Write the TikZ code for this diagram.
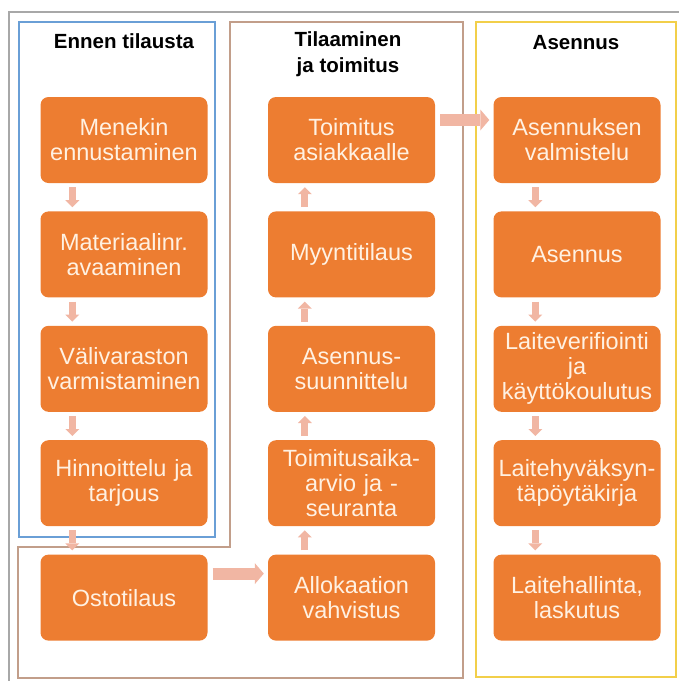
\documentclass[tikz,border=0pt]{standalone}
\usepackage{fontspec}
\setmainfont{Liberation Sans}
\usetikzlibrary{positioning, arrows.meta}
\definecolor{boxorange}{HTML}{ED7D31}
\definecolor{boxtext}{HTML}{FFF1E2}
\definecolor{arrowpink}{HTML}{F1B6A3}
\definecolor{frameblue}{HTML}{6A9FD6}
\definecolor{framebrown}{HTML}{C29E8A}
\definecolor{frameyellow}{HTML}{F2CF4A}
\definecolor{framegray}{HTML}{A8A8A8}
\tikzset{
x=1pt, y=1pt, % one unit is one pixel of the page (y counted negative from the top)
node distance=28pt, % gap between two boxes of a column
box/.style={rectangle, rounded corners=8pt, fill=boxorange, text=boxtext,
  minimum width=167pt, minimum height=86pt, text width=160pt, inner sep=0pt,
  align=center, font=\fontsize{23.5}{25}\selectfont}, % the orange steps
head/.style={align=center, font=\bfseries\fontsize{20.5}{26}\selectfont}, % column titles
flow/.style={color=arrowpink, line width=7pt,
  -{Triangle[width=14pt,length=7pt,line width=0pt]},
  shorten <=4pt, shorten >=4pt}, % short arrows between the steps
bigflow/.style={color=arrowpink, line width=12pt,
  -{Triangle[width=21pt,length=9pt,line width=0pt]},
  shorten <=5pt, shorten >=4pt}, % arrows from one column to another
}
\begin{document}
\begin{tikzpicture}
      \useasboundingbox (0,0) rectangle (679,-681);

      % frames
      \draw[framegray, line width=2pt] (9,-681) -- (9,-12) -- (679,-12);
      \draw[frameblue, line width=1.6pt] (19,-22) rectangle (215,-537);
      \draw[framebrown, line width=1.6pt] (230,-22) -- (463,-22) -- (463,-678) -- (18,-678)
        -- (18,-547) -- (230,-547) -- cycle;
      \draw[frameyellow, line width=1.6pt] (476,-22) rectangle (676,-677);

      \node[head] (h1) at (124,-41) {Ennen tilausta};
      \node[head] (h2) at (348,-54) {Tilaaminen\\ja toimitus};
      \node[head] (h3) at (576,-43) {Asennus};

      % Ennen tilausta
      \node[box] (men) at (124,-140) {Menekin\\ennustaminen};
      \node[box, below=of men] (mat) {Materiaalinr.\\avaaminen};
      \node[box, below=of mat] (val) {Välivaraston\\varmistaminen};
      \node[box, below=of val] (hin) {Hinnoittelu ja\\tarjous};
      \node[box, below=of hin] (ost) {Ostotilaus};

      % Tilaaminen ja toimitus
      \node[box] (toi) at (351.5,-140) {Toimitus\\asiakkaalle};
      \node[box, below=of toi] (myy) {Myyntitilaus};
      \node[box, below=of myy] (asu) {Asennus-\\suunnittelu};
      \node[box, below=of asu] (tsa) {Toimitusaika-\\arvio ja -\\seuranta};
      \node[box, below=of tsa] (all) {Allokaation\\vahvistus};

      % Asennus
      \node[box] (asv) at (577,-140) {Asennuksen\\valmistelu};
      \node[box, below=of asv] (ase) {Asennus};
      \node[box, below=of ase] (lve) {Laiteverifiointi\\ja\\käyttökoulutus};
      \node[box, below=of lve] (lhy) {Laitehyväksyn-\\täpöytäkirja};
      \node[box, below=of lhy] (lha) {Laitehallinta,\\laskutus};

      \draw
      ([xshift=32pt]men.south west) edge[flow] ([xshift=32pt]mat.north west)
      ([xshift=32pt]mat.south west) edge[flow] ([xshift=32pt]val.north west)
      ([xshift=32pt]val.south west) edge[flow] ([xshift=32pt]hin.north west)
      ([xshift=32pt]hin.south west) edge[flow] ([xshift=32pt]ost.north west)

      ([xshift=37pt]all.north west) edge[flow] ([xshift=37pt]tsa.south west)
      ([xshift=37pt]tsa.north west) edge[flow] ([xshift=37pt]asu.south west)
      ([xshift=37pt]asu.north west) edge[flow] ([xshift=37pt]myy.south west)
      ([xshift=37pt]myy.north west) edge[flow] ([xshift=37pt]toi.south west)

      ([xshift=42pt]asv.south west) edge[flow] ([xshift=42pt]ase.north west)
      ([xshift=42pt]ase.south west) edge[flow] ([xshift=42pt]lve.north west)
      ([xshift=42pt]lve.south west) edge[flow] ([xshift=42pt]lhy.north west)
      ([xshift=42pt]lhy.south west) edge[flow] ([xshift=42pt]lha.north west)

      ([yshift=24pt]ost.east) edge[bigflow] ([yshift=24pt]all.west)
      ([yshift=20pt]toi.east) edge[bigflow] ([yshift=20pt]asv.west)
      ;
    \end{tikzpicture}
\end{document}
